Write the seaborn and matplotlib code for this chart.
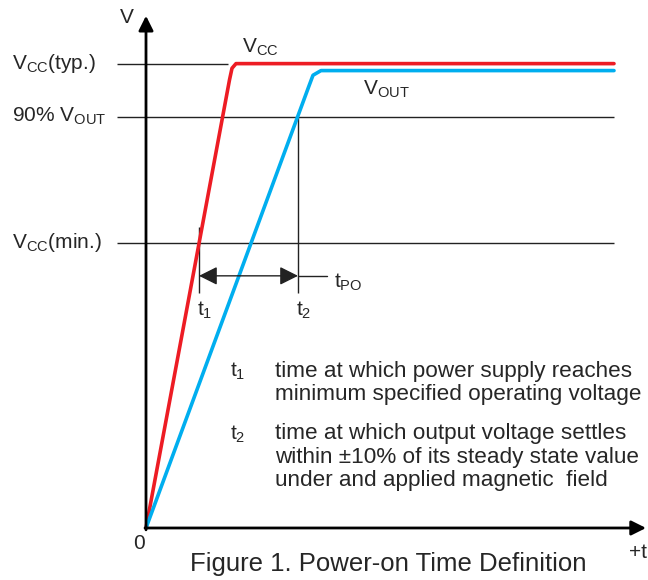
import numpy as np
import pandas as pd
import matplotlib
matplotlib.use("Agg")
import matplotlib.pyplot as plt
import seaborn as sns

# time in arbitrary units, voltage normalised to Vcc(typ.) = 1
t_vcc = [0, 0.835, 0.86, 0.90, 4.68]
v_vcc = [0, 0.965, 0.99, 1.0, 1.0]
t_vout = [0, 1.63, 1.67, 1.75, 4.68]
v_vout = [0, 0.952, 0.975, 0.985, 0.985]

vcc_typ = 1.0
vout_90 = 0.886
vcc_min = 0.614
t1 = 0.53
t2 = 1.52

ref_labels = ['$\\mathregular{V_{CC}}$(typ.)', '90% $\\mathregular{V_{OUT}}$', '$\\mathregular{V_{CC}}$(min.)']
ref_levels = [vcc_typ, vout_90, vcc_min]

note_t1 = ['time at which power supply reaches', 'minimum specified operating voltage']
note_t2 = ['time at which output voltage settles', 'within \u00b110% of its steady state value',
           'under and applied magnetic  field']

sns.set_theme(style="white")
plt.rcParams['font.family'] = ['Liberation Sans', 'DejaVu Sans']
plt.rcParams['mathtext.fontset'] = 'custom'
plt.rcParams['mathtext.rm'] = 'Liberation Sans'

fig = plt.figure(figsize=(6.48, 5.80), dpi=100)
ax = fig.add_axes([0, 0, 1, 1])

fs = 15
blk = '#222222'

# reference levels
ax.hlines(vcc_typ, -0.29, 0.82, color=blk, lw=1.0)
ax.hlines(vout_90, -0.29, 4.68, color=blk, lw=1.0)
ax.hlines(vcc_min, -0.29, 4.68, color=blk, lw=1.0)

# t1 / t2 markers
ax.vlines(t1, 0.506, 0.648, color=blk, lw=1.0)
ax.vlines(t2, 0.506, vout_90, color=blk, lw=1.0)
ax.annotate('', xy=(t1, 0.543), xytext=(t2, 0.543),
            arrowprops=dict(arrowstyle='<|-|>', color=blk, lw=1.0, mutation_scale=28,
                            shrinkA=0, shrinkB=0))
ax.plot([t2, 1.81], [0.543, 0.543], color=blk, lw=1.0)

# curves
d1 = pd.DataFrame({'t': t_vcc, 'v': v_vcc})
d2 = pd.DataFrame({'t': t_vout, 'v': v_vout})
sns.lineplot(data=d1, x='t', y='v', color='#ed1c24', lw=2.6, ax=ax, sort=False)
sns.lineplot(data=d2, x='t', y='v', color='#00aeef', lw=2.6, ax=ax, sort=False)

ax.set_xlim(-1.46, 5.02)
ax.set_ylim(-0.112, 1.137)
ax.axis('off')

# axes with arrows
ax.annotate('', xy=(0, 1.103), xytext=(0, -0.004),
            arrowprops=dict(arrowstyle='-|>', color='black', lw=2.0, mutation_scale=22,
                            shrinkA=0, shrinkB=0))
ax.annotate('', xy=(5.0, 0), xytext=(-0.01, 0),
            arrowprops=dict(arrowstyle='-|>', color='black', lw=2.0, mutation_scale=22,
                            shrinkA=0, shrinkB=0))

ax.text(-0.19, 1.10, 'V', fontsize=fs, ha='center', va='center')
ax.text(-0.07, -0.033, '0', fontsize=fs, ha='center', va='center')
ax.text(4.83, -0.053, '+t', fontsize=fs, ha='left', va='center')

for lab, lev in zip(ref_labels, ref_levels):
    ax.text(-1.335, lev, lab, fontsize=fs, ha='left', va='center')

ax.text(0.96, 1.035, '$\\mathregular{V_{CC}}$', fontsize=fs, ha='left', va='center')
ax.text(2.17, 0.944, '$\\mathregular{V_{OUT}}$', fontsize=fs, ha='left', va='center')
ax.text(1.88, 0.528, '$\\mathregular{t_{PO}}$', fontsize=fs, ha='left', va='center')
ax.text(0.51, 0.468, '$\\mathregular{t_1}$', fontsize=fs, ha='left', va='center')
ax.text(1.50, 0.468, '$\\mathregular{t_2}$', fontsize=fs, ha='left', va='center')

fb = 16.2
ax.text(0.84, 0.326, '$\\mathregular{t_1}$', fontsize=fs, ha='left', va='baseline')
for i, line in enumerate(note_t1):
    ax.text(1.29, 0.326 - i * 0.0495, line, fontsize=fb, ha='left', va='baseline')
ax.text(0.84, 0.191, '$\\mathregular{t_2}$', fontsize=fs, ha='left', va='baseline')
for i, line in enumerate(note_t2):
    ax.text(1.29, 0.191 - i * 0.0505, line, fontsize=fb, ha='left', va='baseline')

ax.text(2.42, -0.092, 'Figure 1. Power-on Time Definition', fontsize=18.5, ha='center', va='baseline')

plt.savefig('out.png', dpi=100)
